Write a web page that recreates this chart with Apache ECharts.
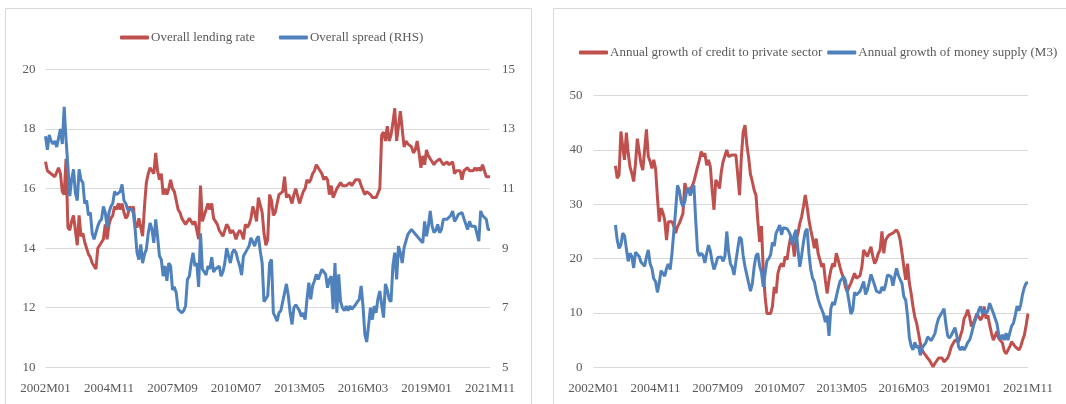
<!DOCTYPE html>
<html>
<head>
<meta charset="utf-8">
<script src="https://cdn.jsdelivr.net/npm/echarts@6/dist/echarts.min.js"></script>
<style>
html,body{margin:0;padding:0;background:#fff;}
#c{width:1066px;height:404px;}
</style>
</head>
<body>
<div id="c"></div>
<script>
// ---- categories / tick labels ----
const startYear = 2002, endYear = 2021, endMonth = 11;
const months = [];
for (let y = startYear; y <= endYear; y++) {
  for (let m = 1; m <= 12; m++) {
    if (y === endYear && m > endMonth) break;
    months.push(y + 'M' + (m < 10 ? '0' + m : m));
  }
}

// ---- left panel ----
const lendingRate = [
  16.9,16.6,16.6,16.5,16.5,16.4,16.4,16.7,16.5,15.9,15.8,17.0,
  14.7,14.6,14.9,15.1,14.6,14.1,15.1,14.4,14.5,14.2,14.0,13.8,
  13.7,13.5,13.4,13.3,14.0,14.1,14.2,14.3,14.8,14.3,14.8,15.0,
  15.1,15.4,15.3,15.5,15.3,15.5,15.2,15.0,15.1,15.4,15.3,15.4,
  14.8,14.7,15.0,14.7,14.4,15.4,16.2,16.5,16.7,16.6,16.5,17.2,
  16.6,16.3,16.5,15.8,16.0,15.8,16.0,16.3,16.0,15.9,15.6,15.3,
  15.2,15.0,14.9,14.8,14.9,15.0,14.9,14.8,14.9,14.6,14.3,16.1,
  14.9,15.1,15.1,15.5,15.3,15.5,15.0,14.9,14.8,14.6,14.5,14.4,
  14.4,14.8,14.7,14.5,14.6,14.5,14.3,14.5,14.6,14.5,14.3,14.8,
  14.7,14.8,15.0,15.4,15.2,14.9,15.7,15.7,15.2,14.5,14.1,14.3,
  15.8,15.6,15.1,15.2,15.5,15.8,15.8,15.9,16.4,15.7,15.8,15.7,
  15.5,15.8,16.0,16.0,15.5,15.7,15.9,16.0,16.3,16.2,16.3,16.5,
  16.6,16.8,16.7,16.6,16.5,16.3,16.4,16.3,15.8,16.1,15.7,15.7,
  16.0,16.1,16.2,16.1,16.1,16.1,16.1,16.2,16.1,16.1,16.3,16.3,
  16.3,16.1,16.1,15.8,15.9,15.9,15.8,15.7,15.7,15.7,15.7,16.0,
  17.8,17.9,17.6,18.1,17.6,17.8,18.2,18.7,17.6,18.1,18.6,18.0,
  17.4,17.6,17.5,17.5,17.4,17.2,17.3,17.6,17.2,16.7,17.1,16.8,
  17.3,17.1,17.1,16.9,16.8,16.9,16.9,17.0,16.9,16.8,16.8,16.9,
  16.8,16.8,16.9,16.5,16.6,16.6,16.6,16.3,16.6,16.6,16.7,16.6,
  16.6,16.6,16.7,16.6,16.7,16.6,16.8,16.6,16.4,16.4,16.4
];
const overallSpread = [
  12.76,12.3,12.8,12.6,12.5,12.6,12.4,12.7,13.0,12.5,13.75,12.65,
  11.75,10.75,11.3,11.65,10.86,10.6,11.65,11.3,11.2,10.5,10.6,10.1,
  10.2,9.5,9.3,9.35,9.74,9.9,9.97,10.4,10.2,9.7,10.2,10.4,
  10.5,10.9,10.8,10.8,10.9,11.14,10.6,10.5,10.3,10.36,10.3,10.2,
  9.63,8.85,8.62,9.13,8.5,8.8,8.96,9.5,9.85,9.63,9.18,9.97,
  9.4,8.74,8.62,8.06,8.4,7.9,8.5,8.4,7.6,7.7,7.5,6.95,
  7.0,6.83,6.9,7.06,7.95,8.06,8.5,8.85,8.4,8.5,7.7,9.5,
  8.3,8.2,8.1,8.4,8.3,8.7,8.2,8.3,8.3,8.4,8.06,8.2,
  8.5,9.0,8.74,8.5,8.85,8.96,8.85,8.6,8.4,8.1,8.74,8.85,
  8.96,9.07,9.35,9.4,9.07,9.3,9.4,8.9,8.5,7.2,7.15,7.4,
  8.5,8.62,6.83,6.7,6.55,6.83,6.9,7.2,7.5,7.8,7.4,6.83,
  6.44,7.0,7.1,7.0,6.9,6.7,6.83,6.6,7.28,7.84,7.28,7.73,
  7.9,8.12,7.95,7.9,8.29,8.34,8.12,7.67,7.95,8.06,6.95,8.5,
  6.83,8.12,7.2,7.0,6.9,7.06,6.9,7.06,6.95,6.9,7.1,7.2,
  7.28,7.73,7.06,6.1,5.85,5.83,7.0,6.6,7.06,6.83,7.3,7.56,
  7.1,6.67,7.8,7.6,7.28,7.2,8.4,8.85,7.95,9.07,8.85,8.5,
  9.02,9.24,9.46,9.4,9.63,9.55,9.52,9.4,9.35,9.25,9.18,9.9,
  9.4,9.74,10.25,9.74,9.52,9.6,9.8,9.52,9.63,9.97,10.0,9.97,
  9.97,10.1,10.25,9.9,10.0,10.13,10.1,10.2,10.0,9.97,9.63,9.9,
  9.74,9.74,9.74,9.74,9.24,10.25,10.1,10.1,9.97,9.63,9.63
];

// ---- right panel ----
const creditGrowth = [
  null,null,null,null,null,null,null,null,null,null,null,null,
  37.1,34.8,35.4,43.4,40.6,38.2,43.2,39.4,36.9,35.7,34.2,37.5,
  42.1,42.1,37.5,36.3,36.3,43.8,38.8,37.9,36.6,38.2,36.6,31.4,
  26.8,29.3,28.5,27.1,23.4,26.8,26.6,26.8,26.0,24.7,25.9,26.5,
  26.8,28.3,33.9,32.6,32.6,32.9,33.3,34.2,34.5,36.9,38.2,39.7,
  38.8,39.4,37.2,38.2,36.9,32.6,29.0,34.5,33.9,32.9,36.0,37.9,
  38.2,40.0,38.8,38.9,39.1,39.0,39.1,39.4,31.7,38.8,43.4,44.6,
  41.0,38.5,35.5,34.2,32.6,31.7,27.0,23.1,26.0,17.9,13.0,9.9,
  9.6,9.9,11.2,14.8,13.6,17.3,18.5,19.1,18.5,20.4,19.8,22.2,
  24.0,23.4,20.4,23.4,24.7,26.5,27.7,29.6,31.7,29.6,27.1,25.3,
  23.7,21.9,23.7,21.0,19.8,18.5,19.1,16.0,13.6,16.1,17.9,19.1,
  18.5,21.0,19.8,18.5,17.3,16.4,14.8,13.9,14.8,15.5,16.4,17.3,
  16.4,16.7,16.9,18.5,21.6,21.0,20.4,20.7,22.2,20.4,19.1,19.8,
  21.0,21.6,25.0,21.0,23.4,24.0,24.4,24.7,24.7,24.8,25.3,24.7,
  23.4,21.0,18.5,16.1,19.1,15.5,13.6,11.2,9.3,8.1,6.3,4.4,
  3.2,2.6,2.2,1.7,1.3,0.7,0.1,0.7,1.0,1.7,2.0,1.7,
  1.0,0.7,1.7,2.6,3.8,4.1,5.0,5.3,4.7,5.0,6.9,9.0,
  9.6,10.6,9.3,7.5,8.1,9.0,9.9,9.6,8.7,9.3,11.2,9.0,
  9.6,7.8,6.3,5.0,5.3,6.6,5.3,5.0,4.5,3.0,2.5,2.3,
  3.8,4.7,4.4,3.8,4.1,3.2,3.8,5.0,5.9,7.8,9.9
];
const moneySupplyGrowth = [
  null,null,null,null,null,null,null,null,null,null,null,null,
  26.2,23.4,21.9,22.5,24.7,24.2,24.5,19.5,21.0,20.4,18.3,21.2,
  21.0,20.4,19.4,19.0,18.6,20.3,21.6,19.1,18.2,16.3,15.8,13.8,
  15.5,17.8,17.6,16.8,18.2,19.0,18.0,21.0,25.0,29.0,33.5,32.6,
  30.5,29.6,30.5,32.4,33.0,31.6,32.8,33.5,27.0,21.4,20.5,21.0,
  20.6,19.2,21.0,22.5,21.4,19.4,18.0,19.0,20.2,20.2,20.3,19.5,
  20.5,25.0,21.3,19.1,18.4,17.0,19.5,21.8,24.0,23.6,20.5,18.5,
  18.3,15.5,14.0,15.4,18.5,20.5,21.0,18.7,17.5,14.8,17.3,19.6,
  20.0,20.7,23.0,22.3,24.7,25.4,26.2,24.4,25.7,25.4,25.5,25.0,
  24.2,22.5,24.5,25.3,21.6,18.5,20.6,23.0,25.0,25.5,21.0,18.0,
  16.4,15.7,14.0,12.6,11.5,11.8,9.8,8.3,9.5,5.8,10.8,12.0,
  11.5,13.0,14.5,15.8,15.6,16.7,16.0,14.0,12.0,9.8,10.5,13.8,
  13.3,13.0,14.0,14.2,15.8,13.4,14.2,15.6,17.1,17.2,15.1,14.0,
  13.9,13.7,14.8,14.1,15.2,17.0,16.7,16.7,15.0,16.7,18.2,16.9,
  17.0,15.4,13.0,12.4,9.5,5.5,3.9,3.2,4.6,3.6,4.0,2.2,
  3.6,3.3,4.5,5.6,5.8,4.9,5.0,6.2,7.8,9.0,8.9,10.2,
  10.8,8.0,5.8,5.4,5.9,6.1,7.3,5.8,3.8,3.2,3.8,3.2,
  3.8,4.6,5.0,6.1,7.5,8.6,9.4,10.5,11.2,9.9,10.6,9.9,
  10.4,11.8,11.9,10.0,9.8,8.0,6.0,5.1,6.0,5.0,6.3,5.0,
  6.3,7.6,8.1,9.5,11.3,10.4,11.5,13.4,14.7,15.5,15.6
];

const RED = '#c0504d', BLUE = '#4f81bd', TXT = '#595959', GRID = '#d9d9d9';
const FONT = "'Liberation Serif', 'Times New Roman', serif";

function xAxis(gridIndex) {
  return {
    type: 'category', gridIndex, data: months, boundaryGap: false,
    axisLine: { show: false }, axisTick: { show: false },
    axisLabel: { interval: 33, margin: 15, color: TXT, fontSize: 13, fontFamily: FONT, hideOverlap: false }
  };
}
function yAxis(gridIndex, pos, min, max, interval, split, margin) {
  return {
    type: 'value', gridIndex, position: pos, min, max, interval,
    axisLine: { show: false }, axisTick: { show: false },
    splitLine: { show: split, lineStyle: { color: GRID, width: 1 } },
    axisLabel: { margin, color: TXT, fontSize: 13, fontFamily: FONT }
  };
}
function lineSeries(name, data, color, xi, yi) {
  return {
    name, type: 'line', data, xAxisIndex: xi, yAxisIndex: yi,
    showSymbol: false, symbol: 'none', connectNulls: false, animation: false,
    lineStyle: { color, width: 3 }, itemStyle: { color }
  };
}
const legendCommon = {
  icon: 'roundRect', itemWidth: 29, itemHeight: 4, width: 520,
  textStyle: { color: TXT, fontSize: 13, fontFamily: FONT, padding: [0, 0, 0, -3] }
};

const chart = echarts.init(document.getElementById('c'), null, { renderer: 'canvas' });
chart.setOption({
  animation: false,
  backgroundColor: '#fff',
  graphic: [
    { type: 'rect', shape: { x: 5.5, y: 8.5, width: 526, height: 420 }, style: { fill: 'none', stroke: GRID, lineWidth: 1 }, silent: true },
    { type: 'rect', shape: { x: 553.5, y: 8.5, width: 530, height: 420 }, style: { fill: 'none', stroke: GRID, lineWidth: 1 }, silent: true }
  ],
  legend: [
    Object.assign({ left: 115, top: 26, itemGap: 24, data: ['Overall lending rate', 'Overall spread (RHS)'] }, legendCommon),
    Object.assign({ left: 574, top: 41, itemGap: 5, data: ['Annual growth of credit to private sector', 'Annual growth of money supply (M3)'] }, legendCommon)
  ],
  grid: [
    { left: 45.5, right: 576, top: 69.5, bottom: 36.7 },
    { left: 593.5, right: 38, top: 95.7, bottom: 36.7 }
  ],
  xAxis: [xAxis(0), xAxis(1)],
  yAxis: [
    yAxis(0, 'left', 10, 20, 2, true, 10),
    yAxis(0, 'right', 5, 15, 2, false, 12),
    yAxis(1, 'left', 0, 50, 10, true, 11)
  ],
  series: [
    lineSeries('Overall lending rate', lendingRate, RED, 0, 0),
    lineSeries('Overall spread (RHS)', overallSpread, BLUE, 0, 1),
    lineSeries('Annual growth of credit to private sector', creditGrowth, RED, 1, 2),
    lineSeries('Annual growth of money supply (M3)', moneySupplyGrowth, BLUE, 1, 2)
  ]
});
</script>
</body>
</html>
